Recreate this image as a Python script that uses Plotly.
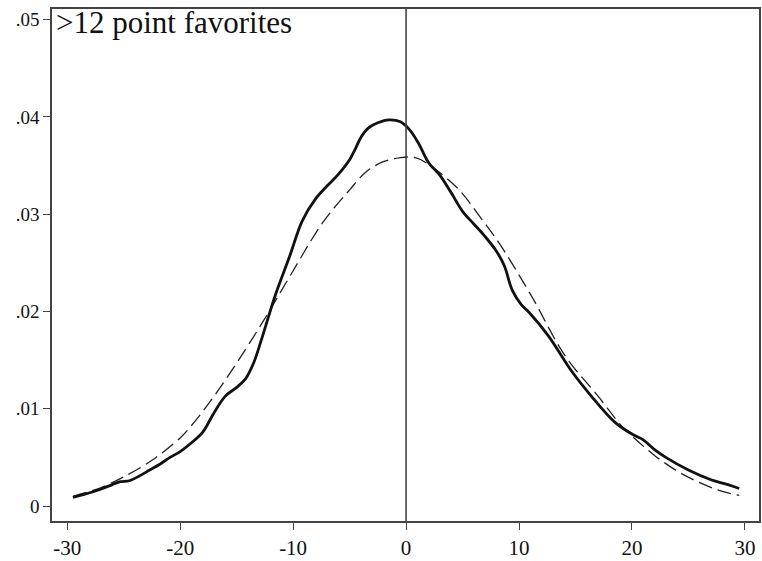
import plotly.graph_objects as go

# Solid line: kernel density of actual outcomes
solid_x = [-29.5, -28.5, -27.1, -26.0, -25.3, -24.5, -23.6, -22.7, -21.8, -20.9, -20.0,
           -19.0, -18.0, -17.0, -16.0, -15.0, -14.2, -13.5, -12.7, -11.6, -10.3, -9.2,
           -8.0, -7.0, -6.0, -5.0, -4.5, -4.0, -3.3, -2.5, -1.5, -0.5, 0.3, 1.1, 2.0, 3.0,
           4.0, 5.0, 6.0, 7.0, 8.0, 8.7, 9.4, 10.2, 10.9, 12.6, 14.7, 16.4, 18.5, 20.0,
           21.0, 22.0, 23.0, 25.0, 27.0, 28.5, 29.5]
solid_y = [0.0009, 0.0012, 0.0017, 0.0022, 0.0025, 0.0026, 0.0031, 0.0037, 0.0043, 0.0050, 0.0056,
           0.0065, 0.0076, 0.0096, 0.0113, 0.0122, 0.0131, 0.0147, 0.0175, 0.0216, 0.0257, 0.0293,
           0.0316, 0.0329, 0.0341, 0.0356, 0.0367, 0.0379, 0.0389, 0.0394, 0.0397, 0.0395, 0.0387, 0.0373, 0.0353, 0.0340,
           0.0322, 0.0303, 0.0290, 0.0277, 0.0262, 0.0247, 0.0222, 0.0207, 0.0199, 0.0175, 0.0138, 0.0113, 0.0086, 0.0074,
           0.0068, 0.0058, 0.0050, 0.0037, 0.0027, 0.0022, 0.0018]

# Dashed line: normal density reference
dash_x = [-29.5, -27.0, -25.0, -22.5, -20.0, -19.2, -17.5, -15.4, -12.7, -10.3, -7.4,
          -5.0, -3.5, -2.0, -0.6, 0.9, 2.5, 4.7, 6.5, 8.2, 11.1, 14.1, 17.0, 19.1,
          20.0, 22.0, 24.0, 26.0, 28.0, 29.5]
dash_y = [0.0010, 0.0019, 0.0030, 0.0047, 0.0070, 0.0080, 0.0105, 0.0140, 0.0189, 0.0236, 0.0291,
          0.0325, 0.0344, 0.0354, 0.0358, 0.0358, 0.0347, 0.0325, 0.0298, 0.0271, 0.0216, 0.0154, 0.0113, 0.0082,
          0.0072, 0.0052, 0.0036, 0.0024, 0.0015, 0.0011]

x_ticks = [-30, -20, -10, 0, 10, 20, 30]
x_labels = ["-30", "-20", "-10", "0", "10", "20", "30"]
y_ticks = [0, 0.01, 0.02, 0.03, 0.04, 0.05]
y_labels = ["0", ".01", ".02", ".03", ".04", ".05"]

title_text = ">12 point favorites"

fig = go.Figure()
fig.add_trace(go.Scatter(x=dash_x, y=dash_y, mode="lines", line_shape="spline",
                         line=dict(color="#222222", width=1.3, dash="14px,6px"),
                         showlegend=False, hoverinfo="skip"))
fig.add_trace(go.Scatter(x=solid_x, y=solid_y, mode="lines", line_shape="spline",
                         line=dict(color="#111111", width=2.8),
                         showlegend=False, hoverinfo="skip"))

fig.add_shape(type="line", xref="x", yref="paper", x0=0, x1=0, y0=0, y1=1,
              line=dict(color="#444444", width=1.6))

fig.add_annotation(xref="paper", yref="paper", x=0.003, y=1.012, xanchor="left", yanchor="top",
                   text=title_text, showarrow=False,
                   font=dict(family="Liberation Serif", size=31, color="#111111"))

axis_common = dict(showgrid=False, zeroline=False, showline=True, mirror=True,
                   linecolor="#444444", linewidth=1.6, ticks="outside", ticklen=7,
                   tickcolor="#444444", tickwidth=1.3)

fig.update_xaxes(range=[-31.35, 31.25], tickvals=x_ticks, ticktext=x_labels,
                 tickfont=dict(family="Liberation Serif", size=21, color="#111111"), **axis_common)
fig.update_yaxes(range=[-0.00154, 0.0511], tickvals=y_ticks, ticktext=y_labels,
                 tickfont=dict(family="Liberation Serif", size=19, color="#111111"), **axis_common)

fig.update_layout(width=762, height=561, margin=dict(l=52, r=1, t=9, b=39),
                  paper_bgcolor="white", plot_bgcolor="white")

fig.write_html("out.html")
